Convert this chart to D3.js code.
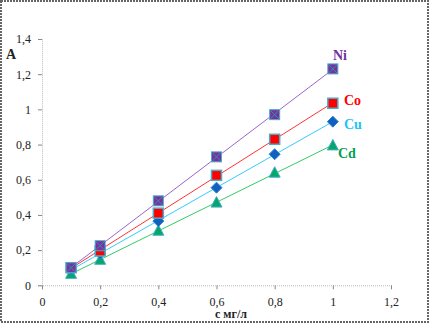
<!DOCTYPE html>
<html>
<head>
<meta charset="utf-8">
<script src="https://cdn.jsdelivr.net/npm/d3@7"></script>
<style>
  body { margin: 0; background: #fff; }
  svg { display: block; font-family: "Liberation Serif", "DejaVu Serif", serif; }
</style>
</head>
<body>
<script>
// data
const conc   = [0.1, 0.2, 0.4, 0.6, 0.8, 1]
const ni     = [0.10, 0.225, 0.48, 0.73, 0.97, 1.23]
const co     = [0.10, 0.195, 0.41, 0.625, 0.83, 1.035]
const cu     = [0.09, 0.18, 0.365, 0.555, 0.745, 0.93]
const cd     = [0.065, 0.145, 0.31, 0.47, 0.64, 0.795]
const names  = ["Ni", "Co", "Cu", "Cd"]
const xTicks = [0, 0.2, 0.4, 0.6, 0.8, 1, 1.2]
const yTicks = [0, 0.2, 0.4, 0.6, 0.8, 1, 1.2, 1.4]

const width = 429, height = 324

const svg = d3.select("body").append("svg")
    .attr("width", width)
    .attr("height", height)

// outer frame
svg.append("rect")
    .attr("x", 1).attr("y", 1)
    .attr("width", width - 2).attr("height", height - 3)
    .attr("fill", "none")
    .attr("stroke", "#666")
    .attr("stroke-width", 2)
    .attr("stroke-dasharray", "2,1")

const x = d3.scaleLinear().domain([0, 1.2]).range([42, 391])
const y = d3.scaleLinear().domain([0, 1.4]).range([285.3, 39])

const fmt = d => d === 0 ? "0" : String(d).replace(".", ",")

// y axis
const yAxis = svg.append("g")
    .attr("transform", `translate(${x(0)},0)`)
    .call(d3.axisLeft(y).tickValues(yTicks).tickFormat(fmt).tickSize(4).tickPadding(7))
yAxis.select(".domain").attr("stroke", "#bbb").attr("stroke-dasharray", "1,1")
yAxis.selectAll(".tick line").attr("stroke", "#888")
yAxis.selectAll("text").attr("font-size", 12).attr("fill", "#222")
    .attr("font-family", "Liberation Serif, serif")

// x axis
const xAxis = svg.append("g")
    .attr("transform", `translate(0,${y(0)})`)
    .call(d3.axisBottom(x).tickValues(xTicks).tickFormat(fmt).tickSize(4).tickPadding(8))
xAxis.select(".domain").attr("stroke", "#bbb").attr("stroke-dasharray", "1,1")
xAxis.selectAll(".tick line").attr("stroke", "#888")
xAxis.selectAll("text").attr("font-size", 12).attr("fill", "#222")
    .attr("font-family", "Liberation Serif, serif")

// axis titles
svg.append("text")
    .attr("x", 6).attr("y", 59)
    .attr("font-size", 14).attr("font-weight", "bold").attr("fill", "#222")
    .text("A")
svg.append("text")
    .attr("x", 231).attr("y", 318)
    .attr("text-anchor", "middle")
    .attr("font-size", 12).attr("font-weight", "bold").attr("fill", "#222")
    .text("с мг/л")

const series = [
    {name: names[0], values: ni, line: "#9966cc", text: "#7030a0", lx: 333, ly: 60},
    {name: names[1], values: co, line: "#ff3333", text: "#ff0000", lx: 344, ly: 105},
    {name: names[2], values: cu, line: "#33ccff", text: "#22c4f4", lx: 344, ly: 129},
    {name: names[3], values: cd, line: "#33cc66", text: "#00a050", lx: 338, ly: 158}
]

// linear trendlines from first to last x
series.forEach(s => {
    const mx = d3.mean(conc), my = d3.mean(s.values)
    const b = d3.sum(conc, (c, i) => (c - mx) * (s.values[i] - my)) /
              d3.sum(conc, c => (c - mx) * (c - mx))
    const a = my - b * mx
    svg.append("line")
        .attr("x1", x(conc[0])).attr("y1", y(a + b * conc[0]))
        .attr("x2", x(conc[conc.length - 1])).attr("y2", y(a + b * conc[conc.length - 1]))
        .attr("stroke", s.line)
        .attr("stroke-width", 1)
})

// markers, drawn Cd first so Ni sits on top
const mk = svg.append("g")
conc.forEach((c, i) => {
    const px = x(c)
    // Cd triangle
    mk.append("path")
        .attr("d", `M${px},${y(cd[i]) - 6}L${px + 5.5},${y(cd[i]) + 4.5}L${px - 5.5},${y(cd[i]) + 4.5}Z`)
        .attr("fill", "#00a86b").attr("stroke", "#4bacc6").attr("stroke-width", 1)
    // Cu diamond
    mk.append("path")
        .attr("d", `M${px},${y(cu[i]) - 5.5}L${px + 5.5},${y(cu[i])}L${px},${y(cu[i]) + 5.5}L${px - 5.5},${y(cu[i])}Z`)
        .attr("fill", "#1060c0").attr("stroke", "#2f7fd0").attr("stroke-width", 1)
    // Co square
    mk.append("rect")
        .attr("x", px - 5).attr("y", y(co[i]) - 5).attr("width", 10).attr("height", 10)
        .attr("fill", "#ff0000").attr("stroke", "#4bacc6").attr("stroke-width", 1.5)
    // Ni square with cross
    mk.append("rect")
        .attr("x", px - 5).attr("y", y(ni[i]) - 5).attr("width", 10).attr("height", 10)
        .attr("fill", "#7a2fa8").attr("stroke", "#4bacc6").attr("stroke-width", 1)
    mk.append("path")
        .attr("d", `M${px - 4},${y(ni[i]) - 4}L${px + 4},${y(ni[i]) + 4}M${px + 4},${y(ni[i]) - 4}L${px - 4},${y(ni[i]) + 4}`)
        .attr("stroke", "#2a9a8a").attr("stroke-width", 1)
})

// series labels
svg.selectAll("text.lbl")
    .data(series)
    .enter()
    .append("text")
    .attr("class", "lbl")
    .attr("x", d => d.lx).attr("y", d => d.ly)
    .attr("font-size", 14).attr("font-weight", "bold")
    .attr("fill", d => d.text)
    .text(d => d.name)
</script>
</body>
</html>
